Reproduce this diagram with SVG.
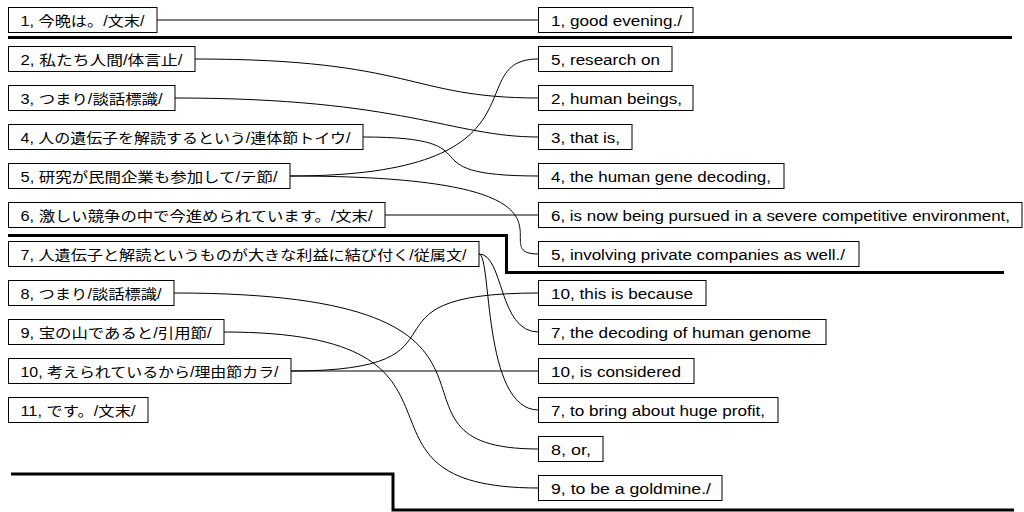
<svg xmlns="http://www.w3.org/2000/svg" width="1024" height="512" viewBox="0 0 1024 512">
<style>
.box{fill:#fff;stroke:#000;stroke-width:1}
.t{font-family:"Liberation Sans","Noto Sans CJK JP",sans-serif;font-size:14px;fill:#000}
.c{fill:none;stroke:#000;stroke-width:1}
.sep{fill:none;stroke:#000;stroke-width:3}
</style>
<rect width="1024" height="512" fill="#fff"/>
<g id="separators">
<path class="sep" d="M8,37.5 H1012"/>
<path class="sep" d="M8,235.5 H506.5 V272.5 H1004"/>
<path class="sep" d="M11,474 H393 V510 H1014"/>
</g>
<g id="connectors">
<path class="c" d="M157,20 H538.5"/>
<path class="c" d="M195,59 C415,59 408,98 538.5,98"/>
<path class="c" d="M175,98 C405,98 451,137 538.5,137"/>
<path class="c" d="M363,137 C503,137 398,176 538.5,176"/>
<path class="c" d="M290,176 C557,176 458,59 538.5,59"/>
<path class="c" d="M290,176 C619,176 478,254 538.5,254"/>
<path class="c" d="M385,215 H538.5"/>
<path class="c" d="M479,254 C504,254 498,332 538.5,332"/>
<path class="c" d="M479,254 C492,254 482,410 538.5,410"/>
<path class="c" d="M174,293 C574,293 351,449 538.5,449"/>
<path class="c" d="M224,332 C509,332 322,488 538.5,488"/>
<path class="c" d="M291,371 C489,371 340,293 538.5,293"/>
<path class="c" d="M291,371 H538.5"/>
</g>
<g id="L1"><rect class="box" x="8.5" y="7.5" width="148.5" height="25"/><text class="t" x="20.5" y="25.5" textLength="124" lengthAdjust="spacingAndGlyphs">1, 今晩は。/文末/</text></g>
<g id="L2"><rect class="box" x="8.5" y="46.5" width="186.5" height="25"/><text class="t" x="20.5" y="64.5" textLength="162" lengthAdjust="spacingAndGlyphs">2, 私たち人間/体言止/</text></g>
<g id="L3"><rect class="box" x="8.5" y="85.5" width="166.5" height="25"/><text class="t" x="20.5" y="103.5" textLength="142" lengthAdjust="spacingAndGlyphs">3, つまり/談話標識/</text></g>
<g id="L4"><rect class="box" x="8.5" y="124.5" width="354.5" height="25"/><text class="t" x="20.5" y="142.5" textLength="330" lengthAdjust="spacingAndGlyphs">4, 人の遺伝子を解読するという/連体節トイウ/</text></g>
<g id="L5"><rect class="box" x="8.5" y="163.5" width="281.5" height="25"/><text class="t" x="20.5" y="181.5" textLength="257" lengthAdjust="spacingAndGlyphs">5, 研究が民間企業も参加して/テ節/</text></g>
<g id="L6"><rect class="box" x="8.5" y="202.5" width="376.5" height="25"/><text class="t" x="20.5" y="220.5" textLength="352" lengthAdjust="spacingAndGlyphs">6, 激しい競争の中で今進められています。/文末/</text></g>
<g id="L7"><rect class="box" x="8.5" y="241.5" width="470.5" height="25"/><text class="t" x="20.5" y="259.5" textLength="446" lengthAdjust="spacingAndGlyphs">7, 人遺伝子と解読というものが大きな利益に結び付く/従属文/</text></g>
<g id="L8"><rect class="box" x="8.5" y="280.5" width="165.5" height="25"/><text class="t" x="20.5" y="298.5" textLength="141" lengthAdjust="spacingAndGlyphs">8, つまり/談話標識/</text></g>
<g id="L9"><rect class="box" x="8.5" y="319.5" width="215.5" height="25"/><text class="t" x="20.5" y="337.5" textLength="191" lengthAdjust="spacingAndGlyphs">9, 宝の山であると/引用節/</text></g>
<g id="L10"><rect class="box" x="8.5" y="358.5" width="282.5" height="25"/><text class="t" x="20.5" y="376.5" textLength="258" lengthAdjust="spacingAndGlyphs">10, 考えられているから/理由節カラ/</text></g>
<g id="L11"><rect class="box" x="8.5" y="397.5" width="139.5" height="25"/><text class="t" x="20.5" y="415.5" textLength="115" lengthAdjust="spacingAndGlyphs">11, です。/文末/</text></g>
<g id="R1"><rect class="box" x="538.5" y="7.5" width="154.5" height="25"/><text class="t" x="551" y="25.5" textLength="131" lengthAdjust="spacingAndGlyphs">1, good evening./</text></g>
<g id="R2"><rect class="box" x="538.5" y="46.5" width="133.5" height="25"/><text class="t" x="551" y="64.5" textLength="109" lengthAdjust="spacingAndGlyphs">5, research on</text></g>
<g id="R3"><rect class="box" x="538.5" y="85.5" width="154.5" height="25"/><text class="t" x="551" y="103.5" textLength="131" lengthAdjust="spacingAndGlyphs">2, human beings,</text></g>
<g id="R4"><rect class="box" x="538.5" y="124.5" width="93.5" height="25"/><text class="t" x="551" y="142.5" textLength="69" lengthAdjust="spacingAndGlyphs">3, that is,</text></g>
<g id="R5"><rect class="box" x="538.5" y="163.5" width="245.5" height="25"/><text class="t" x="551" y="181.5" textLength="220" lengthAdjust="spacingAndGlyphs">4, the human gene decoding,</text></g>
<g id="R6"><rect class="box" x="538.5" y="202.5" width="483.5" height="25"/><text class="t" x="551" y="220.5" textLength="459" lengthAdjust="spacingAndGlyphs">6, is now being pursued in a severe competitive environment,</text></g>
<g id="R7"><rect class="box" x="538.5" y="241.5" width="320.5" height="25"/><text class="t" x="551" y="259.5" textLength="294" lengthAdjust="spacingAndGlyphs">5, involving private companies as well./</text></g>
<g id="R8"><rect class="box" x="538.5" y="280.5" width="167.5" height="25"/><text class="t" x="551" y="298.5" textLength="142" lengthAdjust="spacingAndGlyphs">10, this is because</text></g>
<g id="R9"><rect class="box" x="538.5" y="319.5" width="287.5" height="25"/><text class="t" x="551" y="337.5" textLength="260" lengthAdjust="spacingAndGlyphs">7, the decoding of human genome</text></g>
<g id="R10"><rect class="box" x="538.5" y="358.5" width="155.5" height="25"/><text class="t" x="551" y="376.5" textLength="130" lengthAdjust="spacingAndGlyphs">10, is considered</text></g>
<g id="R11"><rect class="box" x="538.5" y="397.5" width="239.5" height="25"/><text class="t" x="551" y="415.5" textLength="214" lengthAdjust="spacingAndGlyphs">7, to bring about huge profit,</text></g>
<g id="R12"><rect class="box" x="538.5" y="436.5" width="64.5" height="25"/><text class="t" x="551" y="454.5" textLength="40" lengthAdjust="spacingAndGlyphs">8, or,</text></g>
<g id="R13"><rect class="box" x="538.5" y="475.5" width="183.5" height="25"/><text class="t" x="551" y="493.5" textLength="160" lengthAdjust="spacingAndGlyphs">9, to be a goldmine./</text></g>
</svg>
